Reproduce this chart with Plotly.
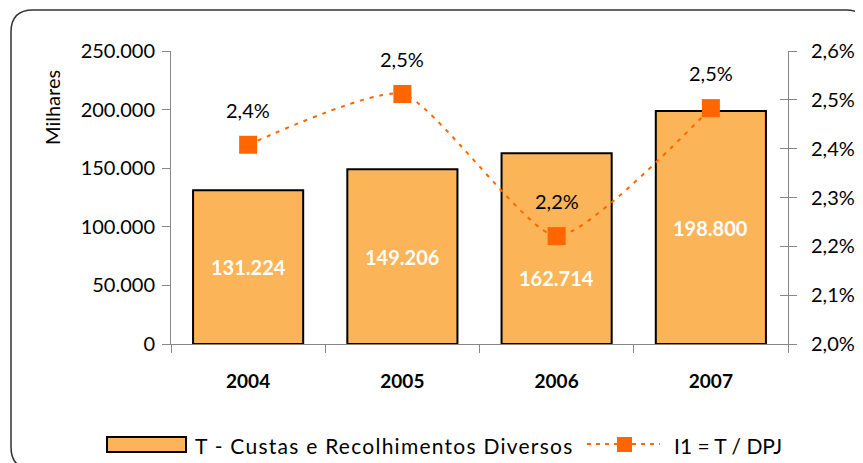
import plotly.graph_objects as go

years = ["2004", "2005", "2006", "2007"]
custas = [131224, 149206, 162714, 198800]
indice = [0.02408, 0.02512, 0.02221, 0.02483]
bar_name = "T - Custas e Recolhimentos Diversos"
line_name = "I1 = T / DPJ"

OFF = 8
W, H = 863 - OFF, 463 - OFF
PL, PR, PT, PB = 171 - OFF, 788 - OFF, 51 - OFF, 344 - OFF
FONT = "Lato"
ORANGE = "#FF6600"
BAR = "#FBB457"
# the 2006 value label sits lower in its bar, clear of the line marker
label_shift = {"2006": -29}


def px(x):
    return (x - OFF - PL) / (PR - PL)


def py(y):
    return (PB - (y - OFF)) / (PB - PT)


fig = go.Figure()
fig.add_trace(go.Bar(
    x=years, y=custas, name=bar_name,
    marker=dict(color=BAR, line=dict(color="#000000", width=2)),
    showlegend=False, yaxis="y", hoverinfo="x+y",
))
fig.add_trace(go.Scatter(
    x=years, y=indice, name=line_name, mode="lines+markers",
    line=dict(color=ORANGE, width=2, dash="4px,6px", shape="spline", smoothing=0.55),
    marker=dict(symbol="square", size=18, color=ORANGE),
    showlegend=False, yaxis="y2",
))

annotations = []
for i, (yr, v) in enumerate(zip(years, custas)):
    annotations.append(dict(x=i, y=v / 2, xref="x", yref="y", yshift=label_shift.get(yr, 0),
                            text=f"{v:,}".replace(",", "."), showarrow=False,
                            xanchor="center", yanchor="middle",
                            font=dict(size=20, family=FONT, color="white", weight="bold")))
for i, v in enumerate(indice):
    annotations.append(dict(x=i, y=v, xref="x", yref="y2", yshift=35,
                            xanchor="center", yanchor="middle",
                            text=f"{v*100:.1f}%".replace(".", ","), showarrow=False,
                            font=dict(size=20, family=FONT, color="black")))

annotations.append(dict(x=px(52), y=py(108), xref="paper", yref="paper",
                        xanchor="center", yanchor="middle",
                        text="Milhares", textangle=-90, showarrow=False,
                        font=dict(size=20, family=FONT, color="black")))
annotations.append(dict(x=px(193), y=py(445), xref="paper", yref="paper",
                        xanchor="left", yanchor="middle",
                        text=f'<span style="letter-spacing:1.25px">{bar_name}</span>',
                        showarrow=False,
                        font=dict(size=21, family=FONT, color="black")))
annotations.append(dict(x=px(672), y=py(445), xref="paper", yref="paper",
                        xanchor="left", yanchor="middle",
                        text=line_name, showarrow=False,
                        font=dict(size=21, family=FONT, color="black")))

L, T, R, B, r = 11, 10, 868, 469, 22
border = (f"M {px(L+r)},{py(T)} L {px(R-r)},{py(T)} Q {px(R)},{py(T)} {px(R)},{py(T+r)} "
          f"L {px(R)},{py(B-r)} Q {px(R)},{py(B)} {px(R-r)},{py(B)} "
          f"L {px(L+r)},{py(B)} Q {px(L)},{py(B)} {px(L)},{py(B-r)} "
          f"L {px(L)},{py(T+r)} Q {px(L)},{py(T)} {px(L+r)},{py(T)} Z")

shapes = [
    dict(type="path", path=border, xref="paper", yref="paper",
         line=dict(color="#333333", width=1.5), layer="below"),
    dict(type="rect", xref="paper", yref="paper", x0=px(107), x1=px(186),
         y0=py(452), y1=py(437), fillcolor=BAR, line=dict(color="black", width=2)),
    dict(type="line", xref="paper", yref="paper", x0=px(587), x1=px(660),
         y0=py(444), y1=py(444), line=dict(color=ORANGE, width=2, dash="4px,5px")),
    dict(type="rect", xref="paper", yref="paper", x0=px(617), x1=px(632),
         y0=py(452), y1=py(437), fillcolor=ORANGE, line=dict(width=0)),
]

axis_common = dict(showgrid=False, zeroline=False, showline=True, linecolor="#868686",
                   linewidth=1, ticks="outside", ticklen=8, tickcolor="#868686",
                   automargin=False,
                   tickfont=dict(size=20, family=FONT, color="black"))

fig.update_layout(
    width=W, height=H,
    margin=dict(l=PL, r=W - PR, t=PT, b=H - PB),
    paper_bgcolor="white", plot_bgcolor="white",
    separators=",.",
    bargap=0.286,
    font=dict(family=FONT, color="black"),
    xaxis=dict(type="category", range=[-0.5, len(years) - 0.5], showgrid=False,
               showline=True, linecolor="#868686",
               ticks="outside", ticklen=8, tickcolor="#868686", tickson="boundaries",
               ticklabelstandoff=20, automargin=False, tickangle=0,
               tickfont=dict(size=19, family=FONT, color="black", weight="bold")),
    yaxis=dict(range=[0, 250000], dtick=50000, tickformat=",.0f",
               ticklabelstandoff=3, **axis_common),
    yaxis2=dict(range=[0.020, 0.026], dtick=0.001, tickformat=".1%",
                overlaying="y", side="right", ticklabelstandoff=10, **axis_common),
    yaxis3=dict(range=[0.020, 0.026], dtick=0.001, overlaying="y", side="right",
                showticklabels=False, showgrid=False, zeroline=False, showline=False,
                ticks="inside", ticklen=8, tickcolor="#868686", automargin=False),
    annotations=annotations,
    shapes=shapes,
)
# invisible helper so the inside half of the right-axis cross ticks is drawn
fig.add_trace(go.Scatter(x=[years[0]], y=[indice[0]], yaxis="y3", mode="markers",
                         marker=dict(opacity=0), showlegend=False, hoverinfo="skip"))

fig.write_html("out.html")
